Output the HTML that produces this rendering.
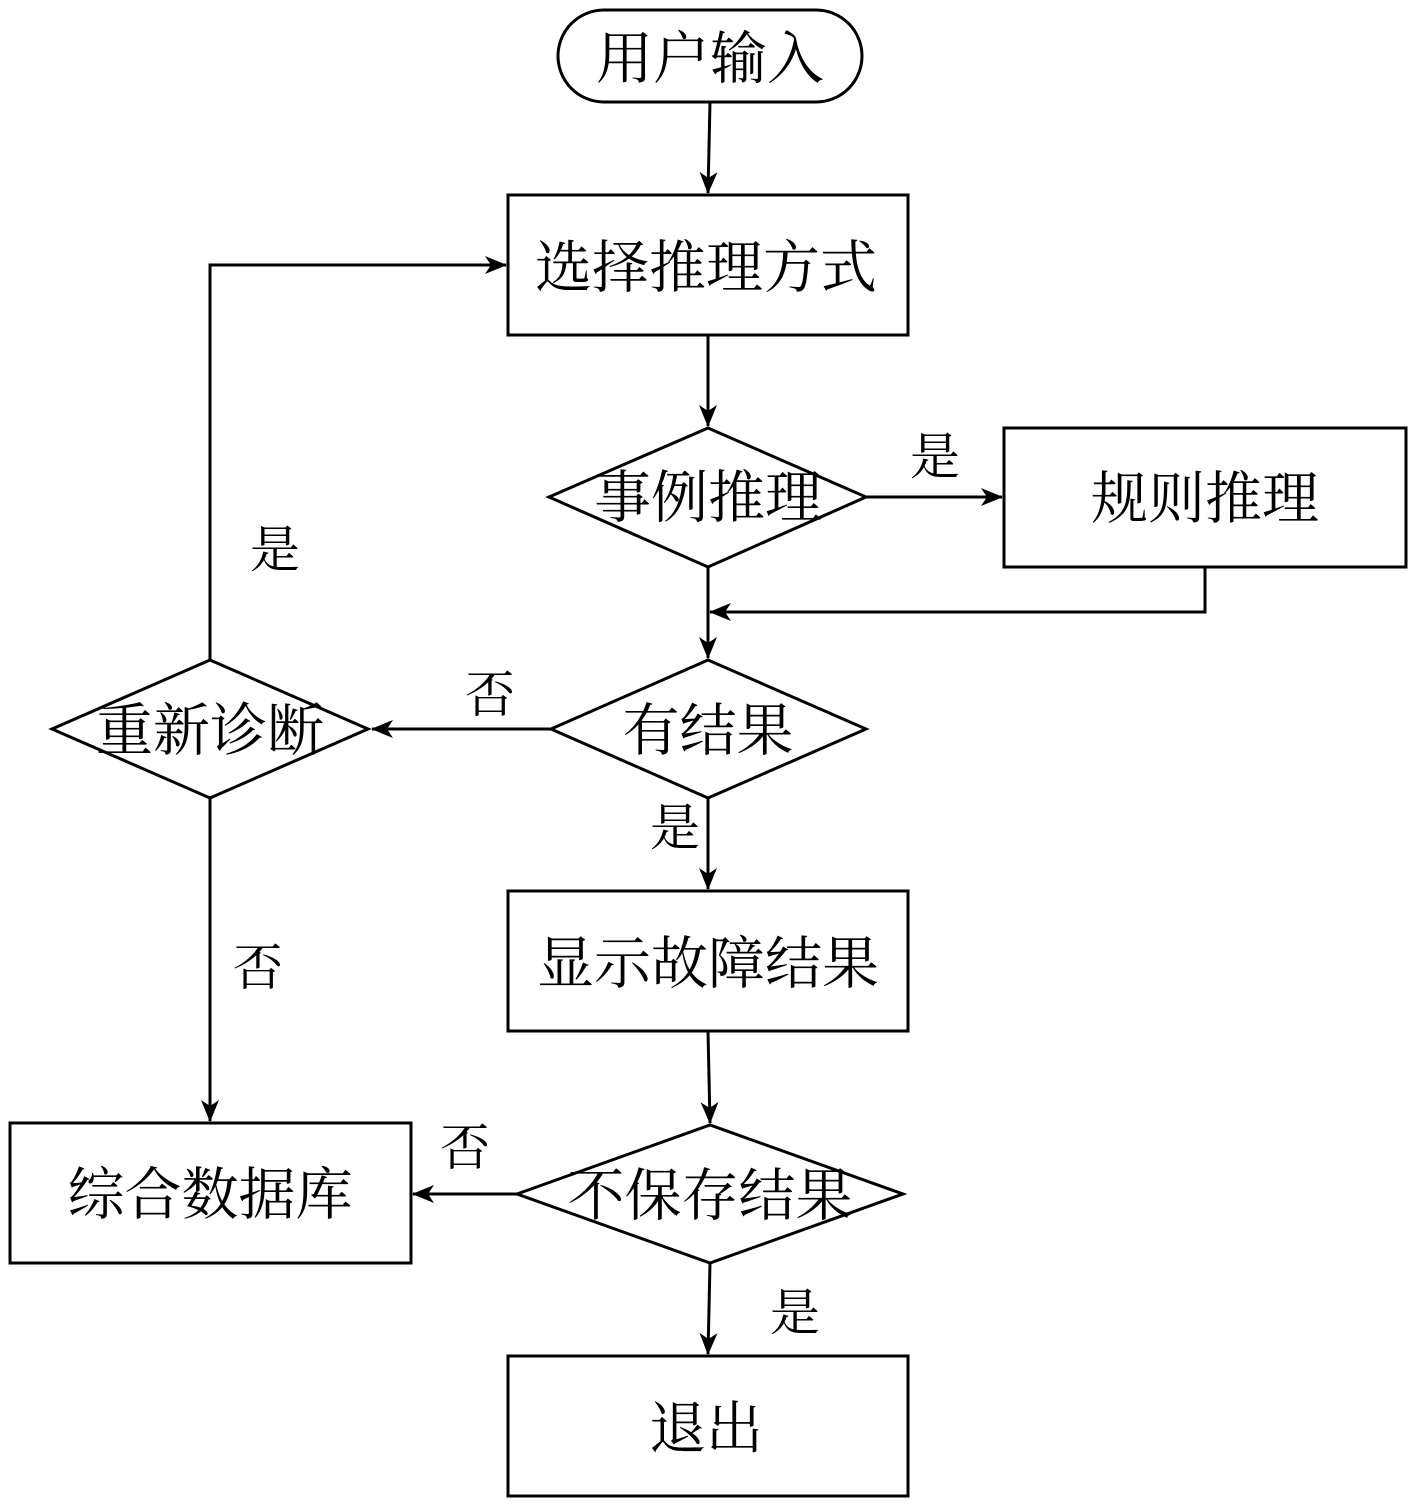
<!DOCTYPE html>
<html><head><meta charset="utf-8"><style>
html,body{margin:0;padding:0;background:#fff}
svg{display:block}
text{font-family:"Liberation Serif","Noto Serif CJK SC",serif;fill:#000}
</style></head><body>
<svg width="1417" height="1505" viewBox="0 0 1417 1505" xmlns="http://www.w3.org/2000/svg">
<defs>
<marker id="b" markerWidth="22" markerHeight="22" refX="21" refY="11" orient="auto" markerUnits="userSpaceOnUse"><path d="M0,2 L22,11 L0,20 L6,11 z" fill="#000"/></marker></defs>
<g fill="none" stroke="#000" stroke-width="3">
<rect x="558" y="10" width="304" height="92" rx="46"/>
<rect x="508" y="195" width="400" height="140"/>
<polygon points="549,497 708,428 866,497 708,567"/>
<rect x="1004" y="428" width="402" height="139"/>
<polygon points="551,729 708,660 866,729 708,798"/>
<polygon points="52,729 210,660 368,729 210,798"/>
<rect x="10" y="1123" width="401" height="140"/>
<rect x="508" y="891" width="400" height="140"/>
<polygon points="517,1194 710,1125 903,1194 710,1263"/>
<rect x="508" y="1356" width="400" height="140"/>
<g marker-end="url(#b)">
<line x1="710" y1="102" x2="708" y2="193"/>
<line x1="708" y1="335" x2="708" y2="426"/>
<line x1="866" y1="497" x2="1002" y2="497"/>
<polyline points="1205,567 1205,612 710,612"/>
<line x1="708" y1="567" x2="708" y2="658"/>
<line x1="551" y1="729" x2="372" y2="729"/>
<polyline points="210,660 210,265 506,265"/>
<line x1="210" y1="798" x2="210" y2="1121"/>
<line x1="708" y1="798" x2="708" y2="889"/>
<line x1="708" y1="1031" x2="710" y2="1123"/>
<line x1="517" y1="1194" x2="413" y2="1194"/>
<line x1="710" y1="1263" x2="708" y2="1354"/>
</g></g>
<g font-size="57" text-anchor="middle">
<text x="710" y="78">用户输入</text>
<text x="706" y="287">选择推理方式</text>
<text x="708" y="517">事例推理</text>
<text x="1205" y="518">规则推理</text>
<text x="708" y="750">有结果</text>
<text x="210" y="750">重新诊断</text>
<text x="708" y="983">显示故障结果</text>
<text x="210" y="1214">综合数据库</text>
<text x="710" y="1215">不保存结果</text>
<text x="706" y="1448">退出</text>
</g>
<g font-size="50" text-anchor="middle">
<text x="935" y="474">是</text>
<text x="275" y="567">是</text>
<text x="490" y="712">否</text>
<text x="675" y="845">是</text>
<text x="258" y="985">否</text>
<text x="465" y="1165">否</text>
<text x="795" y="1330">是</text>
</g>
</svg>
</body></html>
